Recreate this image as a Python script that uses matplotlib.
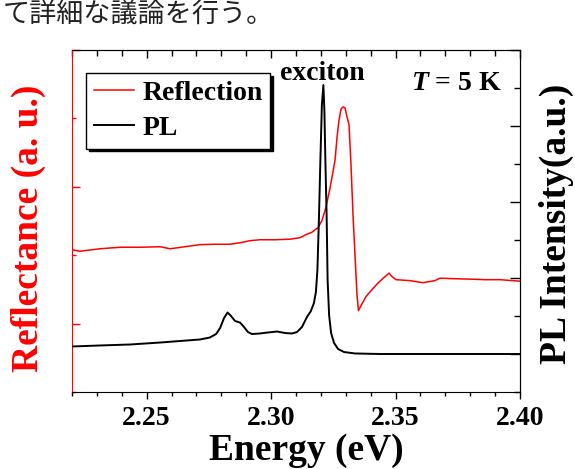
import matplotlib
matplotlib.use('Agg')
import matplotlib.pyplot as plt
from matplotlib.lines import Line2D
from matplotlib.ticker import MultipleLocator

# Reflection spectrum (left axis, a.u.)
energy_refl = [2.2200, 2.2232, 2.2312, 2.2393, 2.2473, 2.2554, 2.2594, 2.2654, 2.2714, 2.2775,
               2.2835, 2.2875, 2.2915, 2.2955, 2.3016, 2.3076, 2.3116, 2.3140, 2.3164, 2.3188,
               2.3204, 2.3220, 2.3236, 2.3248, 2.3257, 2.3265, 2.3273, 2.3281, 2.3289, 2.3297,
               2.3305, 2.3313, 2.3321, 2.3329, 2.3337, 2.3345, 2.3351, 2.3361, 2.3381, 2.3405,
               2.3429, 2.3453, 2.3474, 2.3486, 2.3502, 2.3558, 2.3610, 2.3658, 2.3678, 2.3739,
               2.3799, 2.3859, 2.3920, 2.4000]
refl = [0.540, 0.529, 0.547, 0.558, 0.558, 0.562, 0.547, 0.562, 0.577, 0.580,
        0.580, 0.591, 0.606, 0.613, 0.613, 0.617, 0.628, 0.650, 0.668, 0.701,
        0.752, 0.847, 0.985, 1.102, 1.197, 1.365, 1.489, 1.569, 1.584, 1.577,
        1.511, 1.453, 1.161, 0.796, 0.504, 0.212, 0.095, 0.131, 0.197, 0.248,
        0.296, 0.336, 0.369, 0.343, 0.321, 0.314, 0.299, 0.314, 0.332, 0.328,
        0.325, 0.321, 0.321, 0.310]

# PL spectrum (right axis, a.u.)
energy_pl = [2.2200, 2.2312, 2.2433, 2.2554, 2.2634, 2.2714, 2.2754, 2.2779, 2.2795, 2.2811,
             2.2825, 2.2839, 2.2855, 2.2875, 2.2891, 2.2907, 2.2923, 2.2955, 2.2987, 2.3024,
             2.3056, 2.3084, 2.3104, 2.3124, 2.3144, 2.3160, 2.3172, 2.3180, 2.3186, 2.3192,
             2.3198, 2.3204, 2.3210, 2.3214, 2.3218, 2.3223, 2.3227, 2.3233, 2.3241, 2.3253,
             2.3269, 2.3293, 2.3337, 2.3437, 2.4000]
pl = [0.099, 0.112, 0.125, 0.151, 0.171, 0.191, 0.217, 0.263, 0.342, 0.474,
      0.546, 0.500, 0.434, 0.414, 0.355, 0.289, 0.263, 0.270, 0.283, 0.296,
      0.276, 0.270, 0.289, 0.355, 0.487, 0.566, 0.671, 0.816, 1.105, 1.763,
      2.553, 3.276, 3.539, 3.211, 2.553, 1.829, 0.974, 0.513, 0.276, 0.145,
      0.066, 0.026, 0.007, 0.0, 0.0]

plt.rcParams['font.family'] = 'Liberation Serif'
plt.rcParams['font.weight'] = 'bold'
plt.rcParams['mathtext.fontset'] = 'custom'
plt.rcParams['mathtext.it'] = 'Liberation Serif:italic:bold'
plt.rcParams['mathtext.rm'] = 'Liberation Serif:bold'

fig = plt.figure(figsize=(5.75, 4.69), dpi=100)
ax = fig.add_axes([72/575, 77/469, 448/575, 342/469])
ax2 = ax.twinx()

ax.plot(energy_refl, refl, color='red', lw=1.1)
ax2.plot(energy_pl, pl, color='black', lw=1.4)

ax.set_xlim(2.22, 2.40)
ax.set_ylim(-0.5, 2.0)
ax2.set_ylim(-0.5, 4.0)

ax.xaxis.set_major_locator(MultipleLocator(0.05))
ax.xaxis.set_minor_locator(MultipleLocator(0.01))
ax.xaxis.set_major_formatter(plt.FormatStrFormatter('%.2f'))
ax.yaxis.set_major_locator(MultipleLocator(1.0))
ax.yaxis.set_minor_locator(MultipleLocator(0.5))
ax2.yaxis.set_major_locator(MultipleLocator(1.0))
ax2.yaxis.set_minor_locator(MultipleLocator(0.5))

ax.tick_params(axis='x', which='both', direction='out', top=False, width=1, labelsize=20, pad=5)
ax.tick_params(axis='x', which='major', length=5)
ax.tick_params(axis='x', which='minor', length=3)
ax.tick_params(axis='y', which='both', direction='in', colors='red', labelleft=False, width=1)
ax.tick_params(axis='y', which='major', length=6)
ax.tick_params(axis='y', which='minor', length=3)
ax2.tick_params(axis='y', which='both', direction='in', labelright=False, width=1)
ax2.tick_params(axis='y', which='major', length=7)
ax2.tick_params(axis='y', which='minor', length=4)

top = ax.secondary_xaxis('top')
top.xaxis.set_major_locator(MultipleLocator(0.05))
top.xaxis.set_minor_locator(MultipleLocator(0.01))
top.tick_params(which='both', direction='in', labeltop=False, width=1)
top.tick_params(which='major', length=6)
top.tick_params(which='minor', length=4)

ax.spines['left'].set_color('red')
ax2.spines['left'].set_visible(False)
ax2.spines['top'].set_visible(False)
ax2.spines['bottom'].set_visible(False)

fig.text(306/575, 1 - 460/469, 'Energy (eV)', fontsize=27, ha='center', va='baseline')
fig.text(28/575, 1 - 228/469, 'Reflectance (a. u.)', fontsize=27, color='red',
         rotation=90, ha='center', va='center')
fig.text(556/575, 1 - 224/469, 'PL Intensity(a.u.)', fontsize=27,
         rotation=90, ha='center', va='center')

ax.text(0.559, 0.912, 'exciton', transform=ax.transAxes, fontsize=20, ha='center', va='baseline')
ax.text(0.757, 0.883, r'$T$ = 5 K', transform=ax.transAxes, fontsize=20, ha='left', va='baseline')

handles = [Line2D([], [], color='red', lw=1.1), Line2D([], [], color='black', lw=1.4)]
leg = ax2.legend(handles, ['Reflection', 'PL'], loc='upper left',
                 bbox_to_anchor=(86/575, 1 - 73/469), bbox_transform=fig.transFigure,
                 borderaxespad=0, fontsize=20, handlelength=1.45, handletextpad=0.3,
                 borderpad=0.28, labelspacing=0.33, fancybox=False, framealpha=1,
                 edgecolor='black', shadow={'color': 'black', 'alpha': 1})
leg.get_frame().set_linewidth(1.0)

fig.text(3/575, 1 - 1/469, 'て詳細な議論を行う。', family='Noto Sans CJK JP',
         fontsize=19.5, fontweight='normal', color='#222222', ha='left', va='top')

fig.savefig('out.png', dpi=100)
